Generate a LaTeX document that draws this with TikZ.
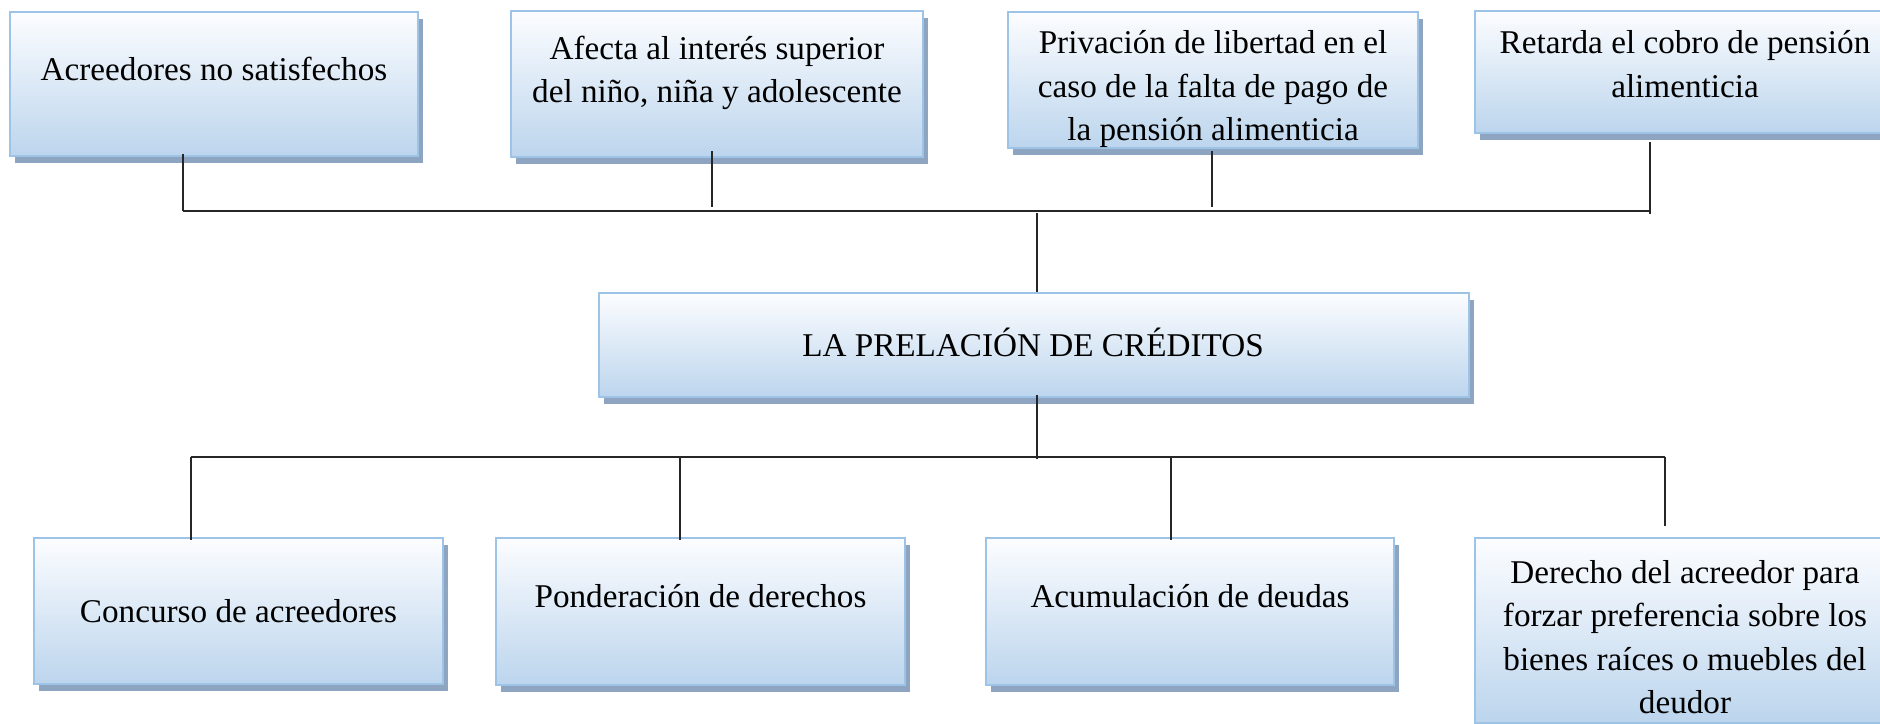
\documentclass[tikz,border=0pt]{standalone}
\usepackage{fontspec}
\setmainfont{Liberation Serif}
\usetikzlibrary{calc,shadows}

\definecolor{boxtop}{RGB}{252,253,255}
\definecolor{boxbot}{RGB}{188,213,237}
\definecolor{boxline}{RGB}{157,195,230}
\definecolor{boxshade}{RGB}{141,165,192}

\tikzset{every picture/.style={line width=0.75pt}}
\tikzset{
  cajon/.style={rectangle, draw=boxline, line width=1.6pt, top color=boxtop, bottom color=boxbot,
    drop shadow={shadow xshift=3.5pt, shadow yshift=-5pt, fill=boxshade, opacity=1}},
  texto/.style={align=center, inner sep=0pt, font=\fontsize{24.9}{32.5}\selectfont},
  enlace/.style={line width=1.4pt, draw=black!85}
}

\begin{document}
\begin{tikzpicture}[x=0.75pt,y=0.75pt,yscale=-1,xscale=1]
\useasboundingbox (0,0) rectangle (1880,724);
\clip (0,0) rectangle (1880,724);

%Shape: Rectangle [top row]
\node [cajon, minimum width=306pt, minimum height=108pt] (acreedores) at (214,84) {};
\node [cajon, minimum width=309pt, minimum height=109.5pt] (interes) at (717,84) {};
\node [cajon, minimum width=307.5pt, minimum height=102pt] (privacion) at (1213,80) {};
\node [cajon, minimum width=315pt, minimum height=91.5pt] (retarda) at (1685,72) {};
%Shape: Rectangle [center]
\node [cajon, minimum width=652.5pt, minimum height=78pt] (prelacion) at (1034,345) {};
%Shape: Rectangle [bottom row]
\node [cajon, minimum width=306.75pt, minimum height=109.5pt] (concurso) at (238.5,611) {};
\node [cajon, minimum width=306.75pt, minimum height=110.25pt] (ponderacion) at (700.5,611.5) {};
\node [cajon, minimum width=306pt, minimum height=110.25pt] (acumulacion) at (1190,611.5) {};
\node [cajon, minimum width=315pt, minimum height=138.75pt] (derecho) at (1685,630.5) {};

% Text Node
\node [texto] (t_acreedores) at (214,69) {Acreedores no satisfechos};
% Text Node
\node [texto] (t_interes) at (717,73) {Afecta al interés superior\\del niño, niña y adolescente};
% Text Node
\node [texto] (t_privacion) at (1213,89) {Privación de libertad en el\\caso de la falta de pago de\\la pensión alimenticia};
% Text Node
\node [texto] (t_retarda) at (1685,64) {Retarda el cobro de pensión\\alimenticia};
% Text Node
\node [texto] (t_prelacion) at (1033,342) {LA PRELACIÓN DE CRÉDITOS};
% Text Node
\node [texto] (t_concurso) at (238.5,611.5) {Concurso de acreedores};
% Text Node
\node [texto] (t_ponderacion) at (700.5,596) {Ponderación de derechos};
% Text Node
\node [texto] (t_acumulacion) at (1190,596) {Acumulación de deudas};
% Text Node
\node [texto] (t_derecho) at (1685,637) {Derecho del acreedor para\\forzar preferencia sobre los\\bienes raíces o muebles del\\deudor};

%Straight Lines [top bus]
\coordinate (arribaI) at (183,211);
\coordinate (arribaD) at (1650,211);
\coordinate (pieB) at (712,207);
\coordinate (pieC) at (1212,207);
\coordinate (pieD) at (1650,214);
\coordinate (arribaM) at (1037,213);
\draw [enlace] (arribaI) -- (arribaD);
\draw [enlace] ($(acreedores.south -| arribaI)+(0,-3)$) -- (arribaI);
\draw [enlace] ($(interes.south -| pieB)+(0,-7)$) -- (pieB);
\draw [enlace] ($(privacion.south -| pieC)+(0,2)$) -- (pieC);
\draw [enlace] ($(retarda.south -| pieD)+(0,8)$) -- (pieD);
\draw [enlace] (arribaM) -- (prelacion.north -| arribaM);

%Straight Lines [bottom bus]
\coordinate (abajoI) at (191,457);
\coordinate (abajoD) at (1665,457);
\coordinate (abajoM) at (1037,459);
\coordinate (pieF) at (680,457);
\coordinate (pieG) at (1171,457);
\draw [enlace] (abajoI) -- (abajoD);
\draw [enlace] ($(prelacion.south -| abajoM)+(0,-3)$) -- (abajoM);
\draw [enlace] (abajoI) -- ($(concurso.north -| abajoI)+(0,3)$);
\draw [enlace] (pieF) -- ($(ponderacion.north -| pieF)+(0,3)$);
\draw [enlace] (pieG) -- ($(acumulacion.north -| pieG)+(0,3)$);
\draw [enlace] (abajoD) -- ($(derecho.north -| abajoD)+(0,-11)$);

\end{tikzpicture}
\end{document}
